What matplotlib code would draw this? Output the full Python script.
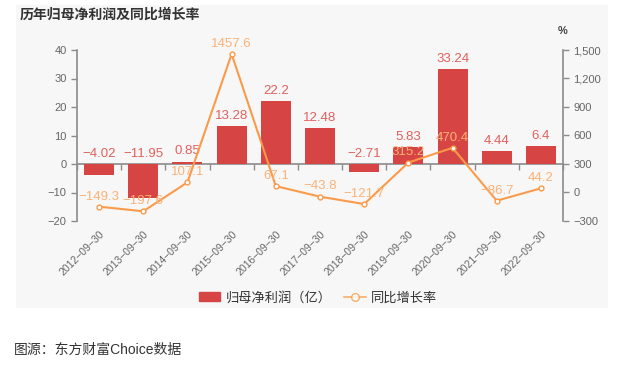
import matplotlib.pyplot as plt
from matplotlib.patches import Rectangle
from matplotlib.ticker import FuncFormatter

plt.rcParams['font.family'] = ['Liberation Sans', 'Noto Sans CJK SC', 'DejaVu Sans']
plt.rcParams['axes.unicode_minus'] = True

dates = ["2012−09−30", "2013−09−30", "2014−09−30", "2015−09−30", "2016−09−30",
         "2017−09−30", "2018−09−30", "2019−09−30", "2020−09−30", "2021−09−30",
         "2022−09−30"]
profit = [-4.02, -11.95, 0.85, 13.28, 22.2, 12.48, -2.71, 5.83, 33.24, 4.44, 6.4]
growth = [-149.3, -197.6, 107.1, 1457.6, 67.1, -43.8, -121.7, 315.2, 470.4, -86.7, 44.2]

BAR_C = '#d64543'
BAR_TXT = '#e0605e'
LINE_C = '#fb9a4a'
LINE_TXT = '#fbb277'
AX_C = '#8c8c8c'
TXT_C = '#666666'

W, H = 617, 368
fig = plt.figure(figsize=(W / 100, H / 100), dpi=100)
fig.patches.append(Rectangle((16 / W, 1 - 308 / H), 592 / W, 303 / H,
                             transform=fig.transFigure, facecolor='#f7f7f7',
                             edgecolor='none', zorder=-10))

ax = fig.add_axes([77 / W, 1 - 221 / H, 486 / W, 171 / H])
ax.patch.set_alpha(0)
x = list(range(len(dates)))

ax.bar(x, profit, width=0.68, color=BAR_C, zorder=2)
ax.set_ylim(-20, 40)
ax.set_xlim(-0.5, len(dates) - 0.5)
ax.set_yticks([-20, -10, 0, 10, 20, 30, 40])
ax.yaxis.set_major_formatter(FuncFormatter(lambda v, p: f"{v:.0f}".replace('-', '−')))
for i, v in enumerate(profit):
    ax.annotate(f"{v:g}".replace('-', '−'), (i, max(v, 0)), xytext=(0, 3),
                textcoords='offset points', ha='center', va='bottom',
                fontsize=9.5, color=BAR_TXT, zorder=5)

for s in ['top', 'right', 'bottom']:
    ax.spines[s].set_visible(False)
ax.spines['left'].set_color(AX_C)
ax.spines['left'].set_linewidth(1.2)
ax.tick_params(axis='y', colors=AX_C, labelcolor=TXT_C, labelsize=8, length=4, width=1)
ax.set_xticks(x)
ax.set_xticklabels(dates, rotation=45, ha='right', rotation_mode='anchor',
                   fontsize=7.5, color=TXT_C)
ax.tick_params(axis='x', length=0, pad=6)

# category axis line sits on zero
zx = ax.secondary_xaxis(20 / 60)
zx.set_xticks([i - 0.5 for i in range(len(dates) + 1)])
zx.set_xticklabels([])
zx.tick_params(axis='x', direction='out', length=4, width=1, colors=AX_C)
zx.spines['bottom'].set_color(AX_C)
zx.spines['bottom'].set_linewidth(1.2)

ax2 = ax.twinx()
ax2.plot(x, growth, color=LINE_C, lw=1.5, marker='o', ms=3.5, mfc='white',
         mec=LINE_C, mew=1, zorder=4)
ax2.set_ylim(-300, 1500)
ax2.set_yticks([-300, 0, 300, 600, 900, 1200, 1500])
ax2.yaxis.set_major_formatter(FuncFormatter(lambda v, p: f"{v:,.0f}".replace('-', '−')))
for s in ['top', 'left', 'bottom']:
    ax2.spines[s].set_visible(False)
ax2.spines['right'].set_color(AX_C)
ax2.spines['right'].set_linewidth(1.2)
ax2.tick_params(axis='y', colors=AX_C, labelcolor=TXT_C, labelsize=8, length=4, width=1)
for i, v in enumerate(growth):
    ax2.annotate(f"{v:g}".replace('-', '−'), (i, v), xytext=(0, 3),
                 textcoords='offset points', ha='center', va='bottom',
                 fontsize=9.5, color=LINE_TXT, zorder=6)
ax2.text(1.0, 1.08, '%', transform=ax2.transAxes, ha='center', va='bottom',
         fontsize=8, color='#444444', fontweight='bold')

fig.text(20 / W, 1 - 15 / H, '历年归母净利润及同比增长率', fontsize=10,
         fontweight='bold', color='#333333', va='center', ha='left')

# legend
bar_h = plt.Rectangle((0, 0), 1, 1, color=BAR_C)
line_h = plt.Line2D([], [], color=LINE_C, lw=1.2, marker='o', ms=5.5,
                    mfc='white', mec=LINE_C, alpha=0.8)
fig.legend([bar_h, line_h], ['归母净利润（亿）', '同比增长率'], loc='center',
           bbox_to_anchor=(318 / W, 1 - 298 / H), ncol=2, frameon=False,
           fontsize=9.5, labelcolor='#333333', handlelength=1.6,
           handleheight=0.7, columnspacing=1.0, handletextpad=0.4)

fig.text(14 / W, 1 - 350 / H, '图源：东方财富Choice数据', fontsize=10,
         color='#333333', va='center', ha='left')

fig.savefig('out.png', dpi=100)
